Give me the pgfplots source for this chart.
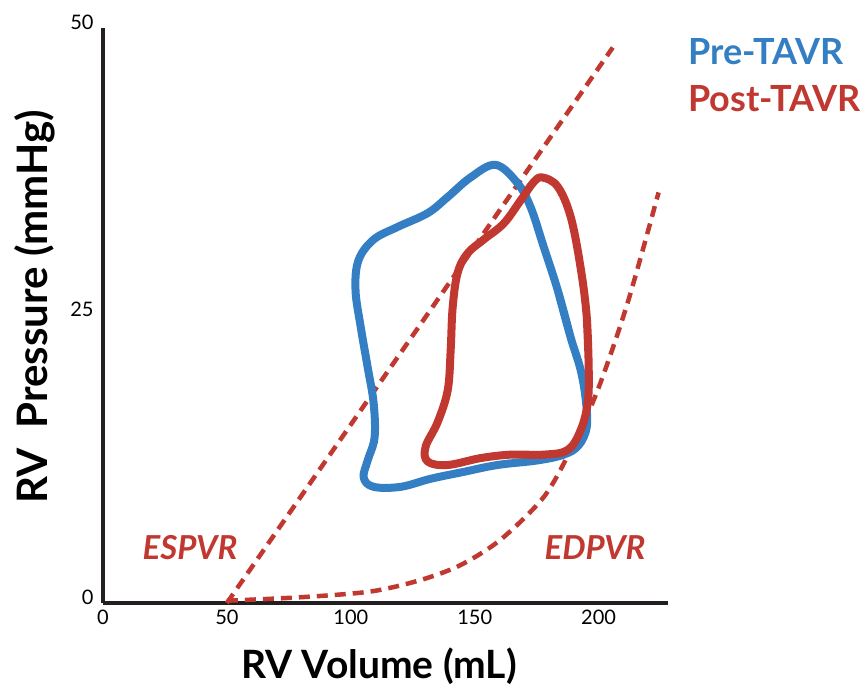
\documentclass[border=0pt]{standalone}
\usepackage{pgfplots}
\pgfplotsset{compat=1.18}
\usepackage{fontspec}
\setmainfont{Lato}
\definecolor{preblue}{RGB}{52,127,196}
\definecolor{postred}{RGB}{192,56,48}
\definecolor{axisgray}{RGB}{35,31,32}
\begin{document}
\begin{tikzpicture}
\useasboundingbox (0,0) rectangle (867pt,692pt);
\begin{axis}[
  at={(103pt,89pt)}, anchor=south west,
  scale only axis, width=565pt, height=575pt,
  xmin=0, xmax=228, ymin=0, ymax=50,
  axis x line*=bottom, axis y line*=left,
  axis line style={line width=4pt, axisgray},
  xtick={0,50,100,150,200}, ytick={0,25,50},
  major tick length=0pt,
  tick label style={font=\fontsize{20}{22}\selectfont, black},
  /pgf/number format/assume math mode=true,
  xticklabel style={yshift=-3pt},
  yticklabel style={xshift=-6pt, yshift=6pt},
  clip=false,
]
% ESPVR
\addplot[postred, line width=4.5pt, dash pattern=on 11pt off 7pt] coordinates {(50,0) (205.7,48.3)};
% EDPVR
\addplot[postred, line width=4.5pt, dash pattern=on 11pt off 7pt, smooth, tension=0.5] coordinates {
(50,0.2) (79.7,0.5) (108.0,1.0) (128.2,2.0) (144.3,3.3) (160.4,5.5) (177.8,9.2) (188.7,13.3) (199.6,18.5) (211.7,26.1) (224.2,35.7)};
% Pre-TAVR loop
\addplot[preblue, line width=8pt, smooth, tension=0.6, line join=round, line cap=round] coordinates {
(183.5,27.2) (188.7,23.1) (192.7,20.3) (194.8,17.7) (195.2,15.3) (191.9,13.7) (185.9,12.9) (175.4,12.4) (159.2,12.0) (145.5,11.4) (132.2,10.8) (120.1,10.1) (109.2,10.1) (105.2,10.9) (106.8,12.4) (109.6,14.4) (109.2,17.4) (106.8,20.5) (104.0,24.0) (101.9,27.2) (103.1,29.8) (109.2,31.6) (118.9,32.7) (131.0,33.9) (139.1,35.3) (148.3,37.0) (158.4,38.1) (167.3,36.5) (172.6,34.4) (177.8,31.0) (183.5,27.2) (188.7,23.1)};
% Post-TAVR loop
\addplot[postred, line width=8pt, smooth, tension=0.6, line join=round, line cap=round] coordinates {
(195.2,24.9) (196.0,20.5) (195.6,17.4) (192.7,15.0) (187.5,13.3) (177.8,12.9) (164.5,12.9) (152.4,12.6) (139.1,12.0) (131.0,12.3) (130.2,13.6) (135.0,15.7) (139.1,18.5) (140.3,22.0) (141.1,25.7) (143.1,28.7) (147.1,30.4) (153.6,31.6) (161.7,33.0) (168.5,35.0) (173.8,36.6) (177.4,37.0) (183.5,36.2) (188.7,33.6) (192.7,29.2) (195.2,24.9) (196.0,20.5)};
\end{axis}
\node[anchor=base, font=\fontsize{39}{42}\selectfont\bfseries] at (379pt,13pt) {RV Volume (mL)};
\node[anchor=base, rotate=90, font=\fontsize{42}{45}\selectfont\bfseries] at (47pt,385pt) {RV\ \ Pressure (mmHg)};
\node[anchor=base west, font=\fontsize{36}{40}\selectfont\bfseries, text=preblue, inner sep=0pt] at (688pt,627pt) {Pre-TAVR};
\node[anchor=base west, font=\fontsize{36}{40}\selectfont\bfseries, text=postred, inner sep=0pt] at (688pt,580pt) {Post-TAVR};
\node[anchor=center, font=\fontsize{33}{36}\selectfont\bfseries\itshape, text=postred] at (190pt,144pt) {ESPVR};
\node[anchor=center, font=\fontsize{33}{36}\selectfont\bfseries\itshape, text=postred] at (595pt,144pt) {EDPVR};
\end{tikzpicture}
\end{document}
